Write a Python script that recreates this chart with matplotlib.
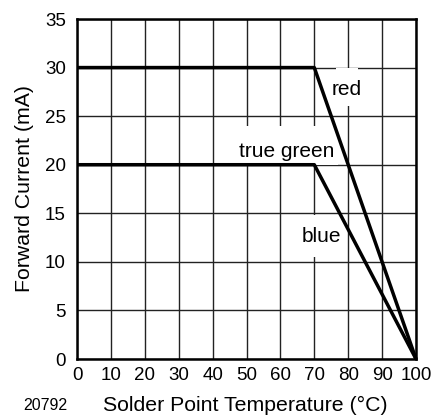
import matplotlib
matplotlib.use("Agg")
import matplotlib.pyplot as plt
from matplotlib.patches import Rectangle

plt.rcParams['font.family'] = ['Liberation Sans', 'DejaVu Sans']

temps = [0, 70, 100]
red_current = [30, 30, 0]
green_blue_current = [20, 20, 0]
x_ticks = [0, 10, 20, 30, 40, 50, 60, 70, 80, 90, 100]
y_ticks = [0, 5, 10, 15, 20, 25, 30, 35]
labels = ['red', 'true green', 'blue']

W, H = 436, 418
fig = plt.figure(figsize=(W/100, H/100), dpi=100)
ax = fig.add_axes([77/W, 59/H, 339/W, 340/H])
ax.set_xlim(0, 100)
ax.set_ylim(0, 35)
ax.set_xticks(x_ticks)
ax.set_yticks(y_ticks)
ax.grid(True, color='#222222', linewidth=1.0)
ax.set_axisbelow(True)
for s in ax.spines.values():
    s.set_linewidth(1.8)
    s.set_color('black')
ax.tick_params(axis='x', length=0, labelsize=13.5, pad=6)
ax.tick_params(axis='y', length=0, labelsize=13.5, pad=8)

ax.plot(temps, red_current, color='black', linewidth=2.5, clip_on=False, solid_capstyle='butt', zorder=3)
ax.plot(temps, green_blue_current, color='black', linewidth=2.5, clip_on=False, solid_capstyle='butt', zorder=3)

# label text positions and white masks behind them (x0, x1, y0, y1)
label_pos = [(79.6, 27.7), (62, 21.4), (72.2, 12.6)]
label_mask = [(76.5, 83.0, 26.0, 30.0), (46.5, 77.0, 20.0, 24.0), (66.0, 78.0, 10.5, 14.8)]
for name, (tx, ty), (x0, x1, y0, y1) in zip(labels, label_pos, label_mask):
    ax.add_patch(Rectangle((x0, y0), x1 - x0, y1 - y0, facecolor='white', edgecolor='none', zorder=1))
    ax.text(tx, ty, name, ha='center', va='center', fontsize=15, zorder=2)

fig.text(245/W, 1 - 405/H, 'Solder Point Temperature (°C)', ha='center', va='center', fontsize=15.3)
fig.text(25/W, 1 - 188/H, 'Forward Current (mA)', ha='center', va='center', rotation=90, fontsize=15.3)
fig.text(45/W, 1 - 405/H, '20792', ha='center', va='center', fontsize=11.5)

fig.savefig('out.png', dpi=100)
